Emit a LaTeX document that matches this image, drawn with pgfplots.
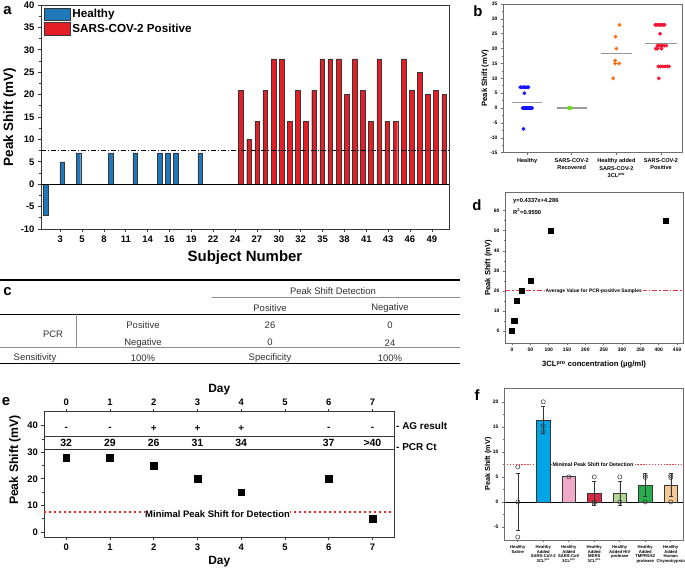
\documentclass[border=0pt]{standalone}
\usepackage{pgfplots}
\pgfplotsset{compat=1.18}
\usepackage{fontspec}
\setmainfont{Liberation Sans}
\definecolor{hblue}{RGB}{30,120,185}
\definecolor{pred}{RGB}{228,30,36}
\definecolor{edge}{RGB}{55,55,55}
\definecolor{fr}{RGB}{110,110,110}
\definecolor{bblue}{RGB}{20,20,255}
\definecolor{bgreen}{RGB}{110,220,30}
\definecolor{borange}{RGB}{255,110,20}
\definecolor{bred}{RGB}{245,20,50}
\definecolor{fblue}{RGB}{0,165,230}
\definecolor{fpink}{RGB}{240,170,200}
\definecolor{fred}{RGB}{215,40,70}
\definecolor{flgreen}{RGB}{180,215,150}
\definecolor{fgreen}{RGB}{40,175,75}
\definecolor{fpeach}{RGB}{245,200,150}
\definecolor{minred}{RGB}{235,60,60}
\definecolor{ered}{RGB}{240,40,40}
\newcommand{\fs}[1]{\fontsize{#1}{#1}\selectfont}
\pgfplotsset{patchlegend/.style={legend image code/.code={\draw[##1] (0bp,-6.3bp) rectangle (26bp,6.3bp);}}}
\begin{document}
\begin{tikzpicture}
\path[use as bounding box, fill=white] (0,0) rectangle (685bp,571bp);
\pgfplotsset{every axis/.append style={scale only axis, anchor=south west,
  /pgf/number format/assume math mode=true, tick align=outside, tick pos=left,
  axis line style={fr, line width=0.8bp}, tick style={fr, line width=0.6bp},
  major tick length=3bp, minor tick length=1.8bp, clip=false}}
% ================= a
\begin{axis}[at={(41bp,342bp)}, width=408bp, height=224bp,
  axis line style={edge, line width=0.9bp}, tick style={edge},
  xmin=0.4, xmax=50.6, ymin=-10, ymax=40,
  ytick={-10,-5,...,40}, minor y tick num=1,
  xtick={2.76,5.45,8.14,10.83,13.52,16.21,18.9,21.59,24.28,26.97,29.66,32.35,35.04,37.73,40.42,43.11,45.8,48.49},
  xticklabels={3,5,8,11,14,16,19,22,24,27,30,32,35,38,41,43,46,49},
  ticklabel style={font=\bfseries\fs{9.5}},
  xlabel={Subject Number}, ylabel={Peak Shift (mV)},
  xlabel style={font=\bfseries\fs{15}, at={(axis description cs:0.5,-0.126)}, anchor=center},
  ylabel style={font=\bfseries\fs{13.5}, at={(axis description cs:-0.077,0.5)}, anchor=center},
  legend style={at={(0.007,0.99)}, anchor=north west, draw=none, fill=none,
    font=\bfseries\fs{11.7}, inner sep=0pt, row sep=0.3bp,
    /tikz/every even column/.append style={column sep=4bp}},
  legend cell align=left]
\addplot[ybar, bar width=0.58, bar shift=0pt, fill=hblue, draw=edge, line width=0.4bp, patchlegend]
  coordinates {(1,-7)(3,5)(5,7)(9,7)(12,7)(15,7)(16,7)(17,7)(20,7)};
\addplot[ybar, bar width=0.58, bar shift=0pt, fill=pred, draw=edge, line width=0.4bp, patchlegend]
  coordinates {(25,21)(26,10)(27,14)(28,21)(29,28)(30,28)(31,14)(32,21)(33,14)(34,21)(35,28)(36,28)(37,28)(38,20)(39,28)(40,21)(41,14)(42,28)(43,14)(44,14)(45,28)(46,21)(47,25)(48,20)(49,21)(50,20)};
\legend{Healthy, SARS-COV-2 Positive}
\addplot[black, line width=0.8bp, forget plot] coordinates {(0.4,0)(50.6,0)};
\addplot[black, line width=0.7bp, dash pattern=on 5bp off 2bp on 1bp off 2bp, forget plot] coordinates {(0.4,7.5)(50.6,7.5)};
\end{axis}
% ================= b
\begin{axis}[at={(503bp,418.3bp)}, width=179bp, height=148.7bp,
  xmin=0.46, xmax=4.47, ymin=-15, ymax=35,
  ytick={-15,-10,...,35}, minor y tick num=1, xtick={1,2,3,4},
  xticklabels={{Healthy},{SARS-COV-2\\Recovered},{Healthy added\\SARS-COV-2\\3CL\textsuperscript{pro}},{SARS-COV-2\\Positive}},
  xticklabel style={align=center, font=\bfseries\fontsize{5.6}{7.8}\selectfont},
  yticklabel style={font=\bfseries\fs{5}},
  major tick length=2bp, minor tick length=1.2bp,
  ylabel={Peak Shift (mV)}, ylabel style={font=\bfseries\fs{7.7}, at={(axis description cs:-0.10,0.5)}, anchor=center}]
\addplot[only marks, mark=*, mark size=1.7bp, bblue] coordinates {
 (0.85,7)(0.88,7)(0.91,7)(0.94,7)(0.97,7)(1.0,7)(1.03,7)(0.94,5)(0.92,-7)
 (0.90,0)(0.915,0)(0.93,0)(0.945,0)(0.96,0)(0.975,0)(0.99,0)(1.005,0)(1.02,0)(1.035,0)(1.05,0)(1.065,0)(1.08,0)(1.095,0)(1.11,0)};
\addplot[only marks, mark=*, mark size=1.7bp, bgreen] coordinates {(1.93,0)(1.95,0)(1.97,0)(1.98,0)};
\addplot[only marks, mark=*, mark size=1.7bp, borange] coordinates {(3.07,28)(2.98,24)(3.0,20)(2.97,16)(2.97,15)(3.06,15)(2.93,10)};
\addplot[only marks, mark=*, mark size=1.7bp, bred] coordinates {
 (3.87,28)(3.90,28)(3.93,28)(3.96,28)(3.99,28)(4.02,28)(4.05,28)(4.08,28)(3.98,25)
 (3.92,21)(3.96,21)(4.0,21)(4.04,21)(4.08,21)(4.12,21)(3.88,20)(3.92,20)(4.01,20)
 (3.94,14)(3.99,14)(4.04,14)(4.09,14)(4.14,14)(4.18,14)(3.95,10)};
\addplot[black!40, line width=1.3bp] coordinates {(0.66,1.96)(1.34,1.96)};
\addplot[black!40, line width=1.3bp] coordinates {(1.66,0)(2.34,0)};
\addplot[black!40, line width=1.3bp] coordinates {(2.65,18.3)(3.35,18.3)};
\addplot[black!40, line width=1.3bp] coordinates {(3.65,21.6)(4.35,21.6)};
\end{axis}
% ================= d
\begin{axis}[at={(505bp,228bp)}, width=178bp, height=150.3bp,
  xmin=-19, xmax=466, ymin=-6, ymax=69,
  xtick={0,50,...,450}, ytick={0,10,...,60}, minor y tick num=1, minor x tick num=1,
  ticklabel style={font=\bfseries\fs{5}},
  major tick length=2bp, minor tick length=1.2bp,
  xlabel={3CL\textsuperscript{pro} concentration (\textmu g/ml)},
  xlabel style={font=\bfseries\fs{7.7}, at={(axis description cs:0.5,-0.146)}, anchor=center},
  ylabel={Peak Shift (mV)}, ylabel style={font=\bfseries\fs{7.7}, at={(axis description cs:-0.094,0.5)}, anchor=center}]
\addplot[draw=minred, color=minred, line width=0.9bp, dash pattern=on 5bp off 2bp on 1.5bp off 2bp] coordinates {(-19,20)(466,20)};
\node[fill=white, inner sep=0.6bp, font=\bfseries\fs{5}] at (axis cs:223,20) {Average Value for PCR-positive Samples};
\addplot[only marks, mark=square*, mark size=2.6bp, black] coordinates {(0,0)(6.3,5)(13.6,15)(26.4,20)(52,25)(105,50)(418,55)};
\node[anchor=west, font=\bfseries\fs{5.8}, inner sep=0pt] at (rel axis cs:0.045,0.947) {y=0.4337x+4.286};
\node[anchor=west, font=\bfseries\fs{5.8}, inner sep=0pt] at (rel axis cs:0.045,0.874) {R\textsuperscript{2}=0.9550};
\end{axis}
% ================= f
\begin{axis}[at={(504bp,31bp)}, width=179bp, height=151.7bp,
  xmin=0.46, xmax=7.48, ymin=-7.6, ymax=22.7,
  ytick={-5,0,...,20}, minor y tick num=1, xtick={1,...,7},
  xticklabels={{Healthy\\Saline},{Healthy\\Added\\SARS-CoV-2\\3CL\textsuperscript{pro}},{Healthy\\Added\\SARS-CoV\\3CL\textsuperscript{pro}},{Healthy\\Added\\MERS\\3CL\textsuperscript{pro}},{Healthy\\Added HIV\\protease},{Healthy\\Added\\TMPRSS2\\protease},{Healthy\\Added\\Human\\Chymotrypsin}},
  xticklabel style={align=center, font=\bfseries\fontsize{4.2}{4.6}\selectfont},
  yticklabel style={font=\bfseries\fs{5}},
  major tick length=2bp, minor tick length=1.2bp,
  ylabel={Peak Shift (mV)}, ylabel style={font=\bfseries\fs{7.3}, at={(axis description cs:-0.088,0.5)}, anchor=center}]
\addplot[black, line width=0.7bp] coordinates {(0.46,0)(7.48,0)};
\addplot[draw=minred, color=minred, line width=0.9bp, dash pattern=on 1.3bp off 1.6bp] coordinates {(0.46,7.4)(7.48,7.4)};
\node[fill=white, inner sep=0.5bp, font=\bfseries\fs{5.3}] at (axis cs:3.95,7.4) {Minimal Peak Shift for Detection};
\addplot[ybar, bar width=0.52, bar shift=0pt, fill=fblue, draw=edge, line width=0.4bp,
  error bars/.cd, y dir=both, y explicit, error bar style={edge, line width=0.5bp}] coordinates {(2,16.4) +- (0,2.7)};
\addplot[ybar, bar width=0.52, bar shift=0pt, fill=fpink, draw=edge, line width=0.4bp] coordinates {(3,5.07)};
\addplot[ybar, bar width=0.52, bar shift=0pt, fill=fred, draw=edge, line width=0.4bp,
  error bars/.cd, y dir=both, y explicit, error bar style={edge, line width=0.5bp}] coordinates {(4,1.67) +- (0,2.4)};
\addplot[ybar, bar width=0.52, bar shift=0pt, fill=flgreen, draw=edge, line width=0.4bp,
  error bars/.cd, y dir=both, y explicit, error bar style={edge, line width=0.5bp}] coordinates {(5,1.67) +- (0,2.4)};
\addplot[ybar, bar width=0.52, bar shift=0pt, fill=fgreen, draw=edge, line width=0.4bp,
  error bars/.cd, y dir=both, y explicit, error bar style={edge, line width=0.5bp}] coordinates {(6,3.4) +- (0,2.25)};
\addplot[ybar, bar width=0.52, bar shift=0pt, fill=fpeach, draw=edge, line width=0.4bp,
  error bars/.cd, y dir=both, y explicit, error bar style={edge, line width=0.5bp}] coordinates {(7,3.4) +- (0,2.25)};
\addplot[only marks, mark=o, mark size=2.1bp, edge, line width=0.5bp,
  error bars/.cd, y dir=both, y explicit, error bar style={edge, line width=0.5bp}] coordinates {(1,0) +- (0,5.7)};
\addplot[only marks, mark=o, mark size=2.1bp, edge, line width=0.5bp] coordinates {
 (1,7)(1,-7)(2,20)(2,15.2)(2,14)(3,5)(4,5)(4,0)(4,-0.3)(5,5)(5,0)(6,5.3)(6,4.9)(6,0)(7,5.3)(7,4.9)(7,0)};
\end{axis}
% ================= e
\begin{axis}[at={(44.3bp,33.7bp)}, width=350bp, height=125.6bp,
  axis line style={edge, line width=0.9bp}, tick style={edge},
  xmin=-0.5, xmax=7.5, ymin=-2, ymax=45.2,
  xtick={0,...,7}, ytick={0,10,...,40}, minor y tick num=1,
  ticklabel style={font=\bfseries\fs{9.5}},
  xlabel={Day}, xlabel style={font=\bfseries\fs{12}, at={(axis description cs:0.5,-0.197)}, anchor=center},
  ylabel={Peak Shift (mV)}, ylabel style={font=\bfseries\fs{12.3}, at={(axis description cs:-0.084,0.615)}, anchor=center}]
\addplot[draw=ered, color=ered, line width=1.5bp, dash pattern=on 2bp off 3bp] coordinates {(-0.5,7.6)(7.5,7.6)};
\addplot[edge, line width=0.8bp] coordinates {(-0.5,35.8)(7.5,35.8)};
\addplot[edge, line width=0.8bp] coordinates {(-0.5,31.1)(7.5,31.1)};
\node[fill=white, inner sep=0.5bp, font=\bfseries\fs{9.5}] at (axis cs:3.46,6.6) {Minimal Peak Shift for Detection};
\addplot[only marks, mark=square*, mark size=3.3bp, black] coordinates {(0,28)(1,28)(2,25)(3,20)(4,15)(6,20)(7,5)};
\node[font=\bfseries\fs{10}] at (axis cs:0,38.7) {-};
\node[font=\bfseries\fs{10}] at (axis cs:1,38.7) {-};
\node[font=\bfseries\fs{10}] at (axis cs:2,38.7) {+};
\node[font=\bfseries\fs{10}] at (axis cs:3,38.7) {+};
\node[font=\bfseries\fs{10}] at (axis cs:4,38.7) {+};
\node[font=\bfseries\fs{10}] at (axis cs:6,38.7) {-};
\node[font=\bfseries\fs{10}] at (axis cs:7,38.7) {-};
\node[font=\bfseries\fs{10.5}] at (axis cs:0,33.3) {32};
\node[font=\bfseries\fs{10.5}] at (axis cs:1,33.3) {29};
\node[font=\bfseries\fs{10.5}] at (axis cs:2,33.3) {26};
\node[font=\bfseries\fs{10.5}] at (axis cs:3,33.3) {31};
\node[font=\bfseries\fs{10.5}] at (axis cs:4,33.3) {34};
\node[font=\bfseries\fs{10.5}] at (axis cs:6,33.3) {37};
\node[font=\bfseries\fs{10.5}] at (axis cs:7,33.3) {>40};
\end{axis}
\begin{axis}[at={(44.3bp,33.7bp)}, width=350bp, height=125.6bp,
  xmin=-0.5, xmax=7.5, ymin=-2, ymax=45.2,
  axis x line*=top, axis y line=none, xtick pos=right, xticklabel pos=right,
  axis line style={edge, line width=0.9bp}, tick style={edge},
  xtick={0,...,7}, ticklabel style={font=\bfseries\fs{9.5}},
  xlabel={Day}, xlabel style={font=\bfseries\fs{12}, at={(axis description cs:0.5,1.173)}, anchor=center}]
\addplot[draw=none] coordinates {(0,0)};
\end{axis}
\node[anchor=west, font=\bfseries\fs{10}, inner sep=0pt] at (396bp,145.3bp) {- AG result};
\node[anchor=west, font=\bfseries\fs{10}, inner sep=0pt] at (396bp,124.3bp) {- PCR Ct};
% ================= c (table)
\begin{scope}[every node/.style={font=\fs{9.5}, text=black!80, inner sep=0pt}]
\draw[black, line width=1.3bp] (0bp,291bp) -- (460bp,291bp);
\draw[black!45, line width=0.6bp] (212bp,273.7bp) -- (460bp,273.7bp);
\draw[black, line width=1.3bp] (0bp,256.7bp) -- (460bp,256.7bp);
\draw[black!45, line width=0.6bp] (76bp,256.7bp) -- (76bp,223.7bp);
\draw[black!45, line width=0.6bp] (0bp,223.7bp) -- (460bp,223.7bp);
\draw[black, line width=1.3bp] (0bp,207.7bp) -- (460bp,207.7bp);
\node at (333bp,280.3bp) {Peak Shift Detection};
\node at (270bp,263.3bp) {Positive};
\node at (390bp,263.3bp) {Negative};
\node at (143bp,246bp) {Positive};
\node at (270bp,246bp) {26};
\node at (390bp,246bp) {0};
\node at (53bp,237bp) {PCR};
\node at (143bp,228.3bp) {Negative};
\node at (270bp,228.3bp) {0};
\node at (390bp,228.3bp) {24};
\node at (35bp,212.7bp) {Sensitivity};
\node at (143bp,212.7bp) {100\%};
\node at (270bp,212.7bp) {Specificity};
\node at (390bp,212.7bp) {100\%};
\end{scope}
% ================= panel letters
\begin{scope}[every node/.style={font=\bfseries\fs{15}, inner sep=0pt}]
\node at (7.5bp,560bp) {a};
\node at (478bp,560bp) {b};
\node at (7.5bp,279.3bp) {c};
\node at (477bp,366bp) {d};
\node at (6bp,169bp) {e};
\node at (477bp,176bp) {f};
\end{scope}
\end{tikzpicture}
\end{document}
